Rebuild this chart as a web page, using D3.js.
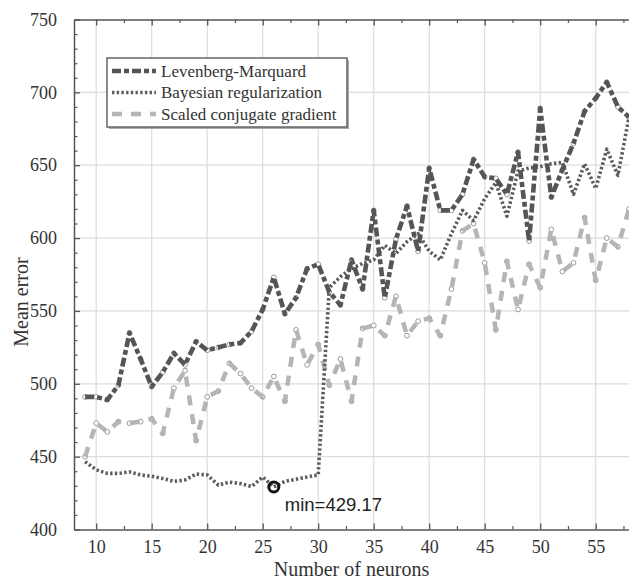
<!DOCTYPE html>
<html><head><meta charset="utf-8">
<script src="https://cdn.jsdelivr.net/npm/d3@7"></script>
<style>body{margin:0;background:#fff}svg{display:block}</style>
</head><body><svg id="c" width="629" height="582"></svg>
<script>
const neurons = [9,10,11,12,13,14,15,16,17,18,19,20,21,22,23,24,25,26,27,28,29,30,31,32,33,34,35,36,37,38,39,40,41,42,43,44,45,46,47,48,49,50,51,52,53,54,55,56,57,58];
const lmError = [491,491,489,499,535,517,498,508,521,513,529,523,525,527,528,536,551,573,548,559,579,582,563,554,585,565,619,559,599,622,591,648,619,619,630,654,642,641,630,659,598,689,628,647,665,687,696,707,690,683];
const brError = [446.5,441,438.5,438.5,439.5,437.5,436.5,435,433,434,438,437.5,430.5,432.5,431.5,429.5,436,429.17,433,434.5,436,437.5,566,573.5,579,582.5,585,595,589.5,597.5,603,591,585,603,619,612,627,638,615,646,648,649,651,652,630,651,634,661,643,683];
const scgError = [450,473,467,474,473,474,476,466,497,509,461,491,495,514,507,497,491,505,488,537,513,527,499,517,488,538,540,533,560,533,543,545,533,565,605,610,583,537,584,551,582,566,606,577,583,614,571,600,594,620];
const seriesNames = ["Levenberg-Marquard","Bayesian regularization","Scaled conjugate gradient"];
const xTicks = [10,15,20,25,30,35,40,45,50,55];
const yTicks = [400,450,500,550,600,650,700,750];
const minNeurons = 26, minValue = 429.17;
const minLabel = "min=429.17";
const xTitle = "Number of neurons", yTitle = "Mean error";

const svg = d3.select("#c");
const L = 74, R = 629, T = 19.5, B = 529.5;
const x = d3.scaleLinear().domain([8,58]).range([L,R]);
const y = d3.scaleLinear().domain([400,750]).range([B,T]);
const serif = "'Liberation Serif','Times New Roman',serif";

// grid
const g = svg.append("g");
g.selectAll(".gx").data(xTicks).join("line")
  .attr("x1",d=>x(d)).attr("x2",d=>x(d)).attr("y1",T).attr("y2",B)
  .attr("stroke","#dcdcdc").attr("stroke-width",1.2);
g.selectAll(".gy").data(yTicks.slice(1,-1)).join("line")
  .attr("x1",L).attr("x2",R).attr("y1",d=>y(d)).attr("y2",d=>y(d))
  .attr("stroke","#dcdcdc").attr("stroke-width",1.2);

const minorX = d3.range(10,58,2.5).filter(v=>v%5!==0);
const minorY = d3.range(400,751,10).filter(v=>v%50!==0);

function styleAxis(sel){
  sel.select(".domain").attr("stroke","#555").attr("stroke-width",1.5);
  sel.selectAll(".tick line").attr("stroke","#555").attr("stroke-width",1.3);
  sel.selectAll("text").attr("font-family",serif).attr("font-size",18).attr("fill","#333");
}
// bottom
const ax = svg.append("g").attr("transform",`translate(0,${B})`)
  .call(d3.axisBottom(x).tickValues(xTicks).tickSize(-6).tickPadding(11).tickSizeOuter(0));
styleAxis(ax);
svg.append("g").attr("transform",`translate(0,${B})`)
  .call(d3.axisBottom(x).tickValues(minorX).tickSize(-3.5).tickFormat("").tickSizeOuter(0))
  .call(s=>{s.select(".domain").remove();s.selectAll("line").attr("stroke","#555").attr("stroke-width",1.2);});
// top
const at = svg.append("g").attr("transform",`translate(0,${T})`)
  .call(d3.axisTop(x).tickValues(xTicks).tickSize(-6).tickFormat("").tickSizeOuter(0));
styleAxis(at);
svg.append("g").attr("transform",`translate(0,${T})`)
  .call(d3.axisTop(x).tickValues(minorX).tickSize(-3.5).tickFormat("").tickSizeOuter(0))
  .call(s=>{s.select(".domain").remove();s.selectAll("line").attr("stroke","#555").attr("stroke-width",1.2);});
// left
const al = svg.append("g").attr("transform",`translate(${L},0)`)
  .call(d3.axisLeft(y).tickValues(yTicks).tickSize(-6).tickPadding(17).tickSizeOuter(0));
styleAxis(al);
svg.append("g").attr("transform",`translate(${L},0)`)
  .call(d3.axisLeft(y).tickValues(minorY).tickSize(-3.5).tickFormat("").tickSizeOuter(0))
  .call(s=>{s.select(".domain").remove();s.selectAll("line").attr("stroke","#555").attr("stroke-width",1.2);});

// titles
svg.append("text").attr("x",(L+R)/2).attr("y",576).attr("text-anchor","middle")
  .attr("font-family",serif).attr("font-size",20).attr("fill","#333").text(xTitle);
svg.append("text").attr("transform","translate(28,302) rotate(-90)").attr("text-anchor","middle")
  .attr("font-family",serif).attr("font-size",20).attr("fill","#333").text(yTitle);

const styles = [
  {data:lmError, color:"#555", width:4.6, dash:"9,3,5,3", markers:true},
  {data:brError, color:"#5c5c5c", width:3.6, dash:"2.4,2.3", markers:false},
  {data:scgError, color:"#b5b5b5", width:4.5, dash:"10,9", markers:true}
];
const line = d3.line().x((d,i)=>x(neurons[i])).y(d=>y(d));
const plot = svg.append("g");
styles.forEach(s=>{
  if(s.markers){
    plot.append("g").selectAll("circle").data(s.data).join("circle")
      .attr("cx",(d,i)=>x(neurons[i])).attr("cy",d=>y(d)).attr("r",2.4)
      .attr("fill","#fff").attr("stroke","#999").attr("stroke-width",1);
  }
});
[2,1,0].forEach(k=>{
  const s = styles[k];
  plot.append("path").datum(s.data).attr("d",line).attr("fill","none")
    .attr("stroke",s.color).attr("stroke-width",s.width).attr("stroke-dasharray",s.dash)
    .attr("stroke-linejoin","round");
});

// min marker
svg.append("circle").attr("cx",x(minNeurons)).attr("cy",y(minValue)).attr("r",5)
  .attr("fill","none").attr("stroke","#111").attr("stroke-width",3);
svg.append("text").attr("x",x(minNeurons)+11).attr("y",y(minValue)+24)
  .attr("font-family","'Liberation Sans',Arial,sans-serif").attr("font-size",18.5).attr("fill","#222").text(minLabel);

// legend
const lg = svg.append("g");
lg.append("rect").attr("x",109).attr("y",60).attr("width",240).attr("height",69).attr("fill","#aaa");
lg.append("rect").attr("x",107).attr("y",58).attr("width",240).attr("height",69).attr("fill","#fff").attr("stroke","#666").attr("stroke-width",1.5);
seriesNames.forEach((n,i)=>{
  const yy = 71 + i*21.5;
  lg.append("line").attr("x1",112).attr("x2",156).attr("y1",yy).attr("y2",yy)
    .attr("stroke",styles[i].color).attr("stroke-width",styles[i].width).attr("stroke-dasharray",styles[i].dash);
  lg.append("text").attr("x",161).attr("y",yy).attr("dy","0.35em")
    .attr("font-family",serif).attr("font-size",17).attr("fill","#333").text(n);
});
</script></body></html>
